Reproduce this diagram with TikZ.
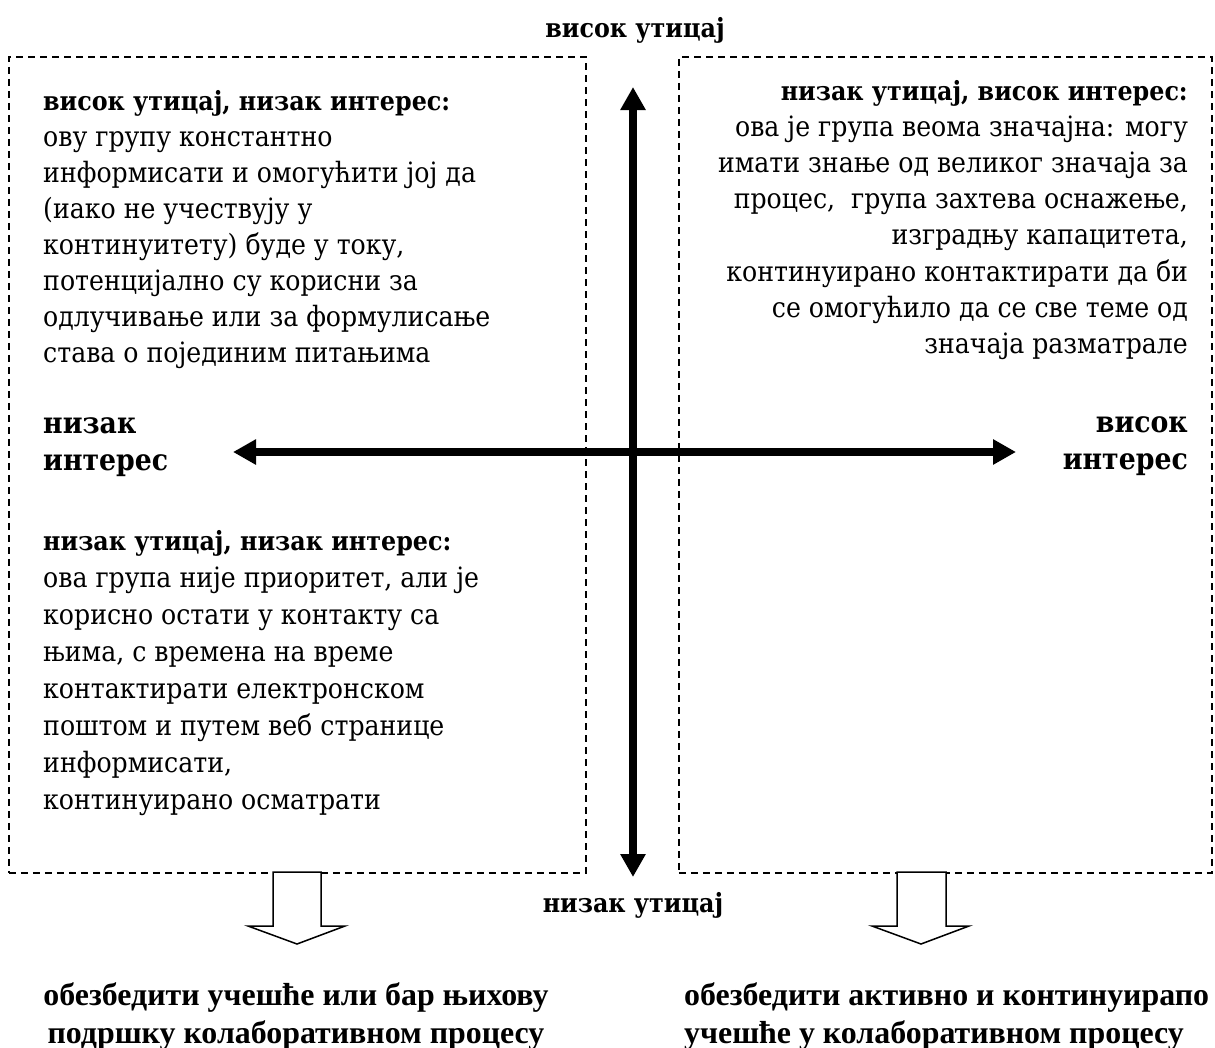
\documentclass[tikz,border=0pt]{standalone}
\usepackage{fontspec}
\usetikzlibrary{arrows.meta}

\newfontfamily\bodyfont{DejaVu Serif Condensed}[BoldFont={DejaVu Serif Condensed Bold}]
\newfontfamily\timesfont{Liberation Serif}

% size a font so that a sample string gets a given width (in pt)
\newlength\probe
\newcommand\fitsize[4]{%
  \settowidth\probe{#2\fontsize{10pt}{12pt}\selectfont #3}%
  \pgfmathsetmacro#1{10*#4/\probe}%
  \global\let#1#1}

\AtBeginDocument{%
  \fitsize\bsz{\bodyfont}{одлучивање или за формулисање}{447}%
  \fitsize\hsz{\bodyfont\bfseries}{висок утицај, низак интерес:}{407}%
  \fitsize\gsz{\bodyfont\bfseries}{интерес}{125}%
  \fitsize\tsz{\timesfont\bfseries}{обезбедити активно и континуирапо}{525}%
}

\tikzset{
  dashbox/.style={draw, line width=1.5pt, dash pattern=on 7pt off 5pt,
    inner sep=0pt, anchor=north west},
  axis/.style={line width=8pt,
    {Triangle[length=23pt,width=24pt]}-{Triangle[length=23pt,width=24pt]}},
  hollow/.style={draw, fill=white, line width=1.5pt, line join=miter},
  body/.style={inner sep=0pt, font=\bodyfont\fontsize{\bsz pt}{\bsz pt}\selectfont},
  head/.style={inner sep=0pt, font=\bodyfont\bfseries\fontsize{\hsz pt}{\hsz pt}\selectfont},
  big/.style={inner sep=0pt, font=\bodyfont\bfseries\fontsize{\gsz pt}{\gsz pt}\selectfont},
  goal/.style={inner sep=0pt, font=\timesfont\bfseries\fontsize{\tsz pt}{\tsz pt}\selectfont},
}

\begin{document}
\begin{tikzpicture}[x=1pt,y=-1pt]
\useasboundingbox (0,0) rectangle (1215,1047);

% quadrant frames
\node[dashbox, minimum width=577pt, minimum height=816pt] (qleft) at (8,56) {};
\node[dashbox, minimum width=533pt, minimum height=816pt] (qright) at (678,56) {};

% axes
\coordinate (ytop) at (633,87);
\coordinate (ybot) at (633,877);
\coordinate (xleft) at (233,452);
\coordinate (xright) at (1016,452);
\draw[axis] (ybot) -- (ytop);
\draw[axis] (xleft) -- (xright);

% axis labels
\node[head, anchor=base] (hiinf) at (635,37) {висок утицај};
\node[head, anchor=base] (loinf) at (633,912) {низак утицај};
\node[big, anchor=base west] (loint1) at (43,433) {низак};
\node[big, anchor=base west] (loint2) at (43,470) {интерес};
\node[big, anchor=base east] (hiint1) at (1188,432) {висок};
\node[big, anchor=base east] (hiint2) at (1188,469) {интерес};

% upper left quadrant
\node[head, anchor=base west] (a0) at (43,110) {висок утицај, низак интерес:};
\node[body, anchor=base west] (a1) at (43,146) {ову групу константно};
\node[body, anchor=base west] (a2) at (43,182) {информисати и омогућити јој да};
\node[body, anchor=base west] (a3) at (43,218) {(иако не учествују у};
\node[body, anchor=base west] (a4) at (43,254) {континуитету) буде у току,};
\node[body, anchor=base west] (a5) at (43,290) {потенцијално су корисни за};
\node[body, anchor=base west] (a6) at (43,326) {одлучивање или за формулисање};
\node[body, anchor=base west] (a7) at (43,362) {става о појединим питањима};

% upper right quadrant
\node[head, anchor=base east] (b0) at (1188,100) {низак утицај, висок интерес:};
\node[body, anchor=base east] (b1) at (1188,136.2) {ова је група веома значајна: могу};
\node[body, anchor=base east] (b2) at (1188,172.4) {имати знање од великог значаја за};
\node[body, anchor=base east] (b3) at (1188,208.6) {процес,\ \ група захтева оснажење,};
\node[body, anchor=base east] (b4) at (1188,244.8) {изградњу капацитета,};
\node[body, anchor=base east] (b5) at (1188,281) {континуирано контактирати да би};
\node[body, anchor=base east] (b6) at (1188,317.2) {се омогућило да се све теме од};
\node[body, anchor=base east] (b7) at (1188,353.4) {значаја разматрале};

% lower left quadrant
\node[head, anchor=base west] (c0) at (43,550) {низак утицај, низак интерес:};
\node[body, anchor=base west] (c1) at (43,587) {ова група није приоритет, али је};
\node[body, anchor=base west] (c2) at (43,624) {корисно остати у контакту са};
\node[body, anchor=base west] (c3) at (43,661) {њима, с времена на време};
\node[body, anchor=base west] (c4) at (43,698) {контактирати електронском};
\node[body, anchor=base west] (c5) at (43,735) {поштом и путем веб странице};
\node[body, anchor=base west] (c6) at (43,772) {информисати,};
\node[body, anchor=base west] (c7) at (43,809) {континуирано осматрати};

% outcome arrows
\draw[hollow] (273,872) -- (273,926) -- (248,926) -- (297,944) -- (345,926)
  -- (321,926) -- (321,872) -- cycle;
\draw[hollow] (897,872) -- (897,926) -- (872,926) -- (921,944) -- (969,926)
  -- (946,926) -- (946,872) -- cycle;

% outcomes
\node[goal, anchor=base] (d1) at (296,1005) {обезбедити учешће или бар њихову};
\node[goal, anchor=base] (d2) at (296,1043) {подршку колаборативном процесу};
\node[goal, anchor=base west] (e1) at (684,1005) {обезбедити активно и континуирапо};
\node[goal, anchor=base west] (e2) at (684,1043) {учешће у колаборативном процесу};
\end{tikzpicture}
\end{document}
